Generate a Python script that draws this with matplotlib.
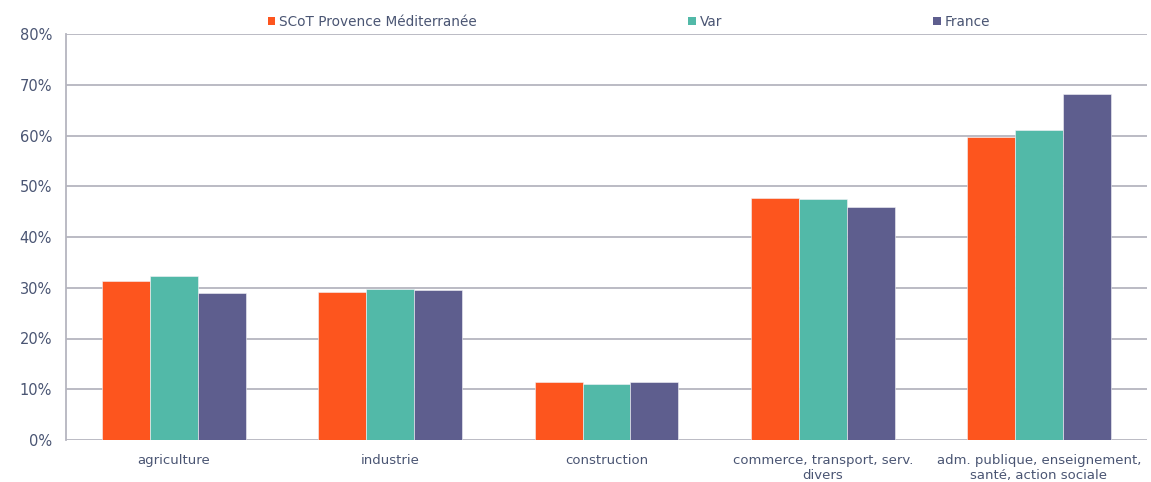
import matplotlib
matplotlib.use("Agg")
import matplotlib.pyplot as plt
import numpy as np
from matplotlib.patches import Patch

categories = [
    "agriculture",
    "industrie",
    "construction",
    "commerce, transport, serv.\ndivers",
    "adm. publique, enseignement,\nsanté, action sociale",
]
series_names = ["SCoT Provence Méditerranée", "Var", "France"]
scot = [31.4, 29.2, 11.4, 47.7, 59.8]
var = [32.3, 29.8, 11.0, 47.5, 61.0]
france = [28.9, 29.5, 11.4, 45.9, 68.2]
y_ticks = [0, 10, 20, 30, 40, 50, 60, 70, 80]

colors = ["#FD551E", "#52B9A8", "#5E5E8E"]
text_color = "#4A5573"
grid_color = "#B5B5BF"

plt.rcParams["font.family"] = ["DejaVu Sans"]

fig = plt.figure(figsize=(11.51, 4.82), dpi=100)
ax = fig.add_axes([66 / 1151, 1 - 440 / 482, (1147 - 66) / 1151, (440 - 34) / 482])

x = np.arange(len(categories))
w = 0.222
for i, (vals, col) in enumerate(zip([scot, var, france], colors)):
    ax.bar(x + (i - 1) * w, vals, width=w, color=col, edgecolor="#F4F4F8",
           linewidth=0.4, zorder=3)

ax.set_xlim(-0.5, len(categories) - 0.5)
ax.set_ylim(0, 80)
ax.set_yticks(y_ticks)
ax.set_yticklabels([f"{t}%" for t in y_ticks])
ax.set_xticks(x)
ax.set_xticklabels(categories)
ax.yaxis.grid(True, color=grid_color, linewidth=1.3, zorder=0)
ax.set_axisbelow(True)

for side in ["top", "right", "bottom"]:
    ax.spines[side].set_visible(False)
ax.spines["left"].set_color(grid_color)
ax.spines["left"].set_linewidth(1.3)

ax.tick_params(axis="both", length=0, colors=text_color, labelsize=9.5)
ax.tick_params(axis="y", pad=10, labelsize=10.5)
ax.tick_params(axis="x", pad=10)

handles = [Patch(facecolor=c, edgecolor="none") for c in colors]
fig.legend(handles, series_names, ncol=3, loc="center",
           bbox_to_anchor=(629 / 1151, 1 - 22 / 482), frameon=False,
           fontsize=9.8, labelcolor=text_color, handlelength=0.55,
           handleheight=0.55, handletextpad=0.3, columnspacing=15.5)

fig.savefig("out.png", dpi=100)
